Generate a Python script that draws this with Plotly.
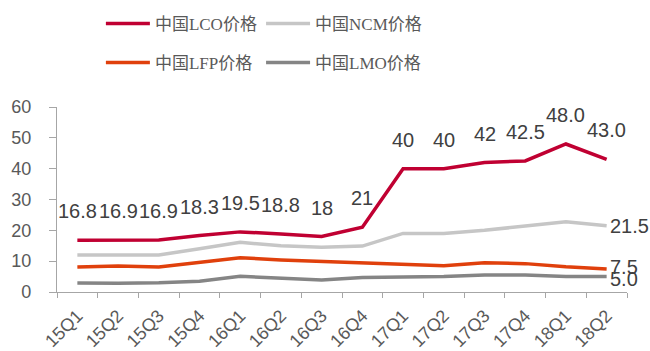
import plotly.graph_objects as go

# Quarterly cathode material prices in China (万元/吨)
quarters = ["15Q1", "15Q2", "15Q3", "15Q4", "16Q1", "16Q2", "16Q3", "16Q4",
            "17Q1", "17Q2", "17Q3", "17Q4", "18Q1", "18Q2"]
lco = [16.8, 16.9, 16.9, 18.3, 19.5, 18.8, 18, 21, 40, 40, 42, 42.5, 48.0, 43.0]
lco_decimals = [1, 1, 1, 1, 1, 1, 0, 0, 0, 0, 0, 1, 1, 1]
ncm = [12.0, 12.0, 12.0, 14.0, 16.1, 15.0, 14.5, 14.9, 19.0, 19.0, 20.0, 21.4, 22.8, 21.5]
lfp = [8.1, 8.4, 8.1, 9.5, 11.1, 10.4, 9.9, 9.5, 9.0, 8.5, 9.5, 9.2, 8.2, 7.5]
lmo = [2.9, 2.8, 3.0, 3.5, 5.1, 4.6, 3.9, 4.7, 4.8, 5.0, 5.5, 5.5, 5.0, 5.0]

# name, values, colour, legend id, legend box position (paper x, paper y)
series = [
    ("中国LCO价格", lco, "#C00032", "legend", (0.077, 1.449)),
    ("中国NCM价格", ncm, "#C6C6C6", "legend2", (0.358, 1.449)),
    ("中国LFP价格", lfp, "#E0400C", "legend3", (0.077, 1.238)),
    ("中国LMO价格", lmo, "#858585", "legend4", (0.358, 1.238)),
]

LABEL_FONT = dict(family="Liberation Sans, Arial, sans-serif", size=20, color="#404040")
TICK_FONT = dict(family="Liberation Sans, Arial, sans-serif", size=18, color="#595959")
AXIS_GRAY = "#A6A6A6"

fig = go.Figure()
for name, vals, color, leg, _ in series:
    fig.add_trace(go.Scatter(
        x=quarters, y=vals, name=name, mode="lines",
        line=dict(color=color, width=3.5),
        legend=leg, hoverinfo="skip",
    ))

annotations = []
# value labels above every LCO point
for q, v, d in zip(quarters, lco, lco_decimals):
    annotations.append(dict(
        x=q, y=v, text=f"{v:.{d}f}", showarrow=False,
        xanchor="center", yanchor="middle", yshift=29, font=LABEL_FONT,
    ))
# end-of-line labels for the other three series
for vals, ys in ((ncm, 0), (lfp, 2), (lmo, -2)):
    annotations.append(dict(
        x=quarters[-1], y=vals[-1], text=f"{vals[-1]:.1f}", showarrow=False,
        xanchor="left", yanchor="middle", xshift=1, yshift=ys, font=LABEL_FONT,
    ))

legend_common = dict(
    orientation="h", xanchor="left", yanchor="middle",
    font=dict(family="Liberation Serif, 'Noto Sans CJK SC', serif", size=17, color="#595959"),
    itemwidth=44, bgcolor="rgba(0,0,0,0)", borderwidth=0,
)
legends = {leg: dict(x=pos[0], y=pos[1], **legend_common) for _, _, _, leg, pos in series}

fig.update_layout(
    width=650, height=351,
    margin=dict(l=57, r=23, t=107, b=59, pad=0, autoexpand=False),
    paper_bgcolor="white", plot_bgcolor="white",
    showlegend=True,
    annotations=annotations,
    xaxis=dict(
        type="category", categoryorder="array", categoryarray=quarters,
        range=[-0.5, len(quarters) - 0.5], automargin=False,
        tickson="boundaries", ticks="outside", ticklen=5, tickwidth=1, tickcolor=AXIS_GRAY,
        showline=True, linecolor=AXIS_GRAY, linewidth=1.3,
        showgrid=False, zeroline=False, ticklabelstandoff=5,
        tickangle=-45, tickfont=dict(family="Liberation Sans, Arial, sans-serif", size=18, color="#595959"),
    ),
    yaxis=dict(
        range=[0, 60], dtick=10, tick0=0, automargin=False,
        ticks="outside", ticklen=7, tickwidth=1, tickcolor=AXIS_GRAY,
        showline=True, linecolor=AXIS_GRAY, linewidth=1.3,
        showgrid=False, zeroline=False,
        tickfont=TICK_FONT, ticklabelstandoff=14,
    ),
    **legends,
)

fig.write_html("out.html")
